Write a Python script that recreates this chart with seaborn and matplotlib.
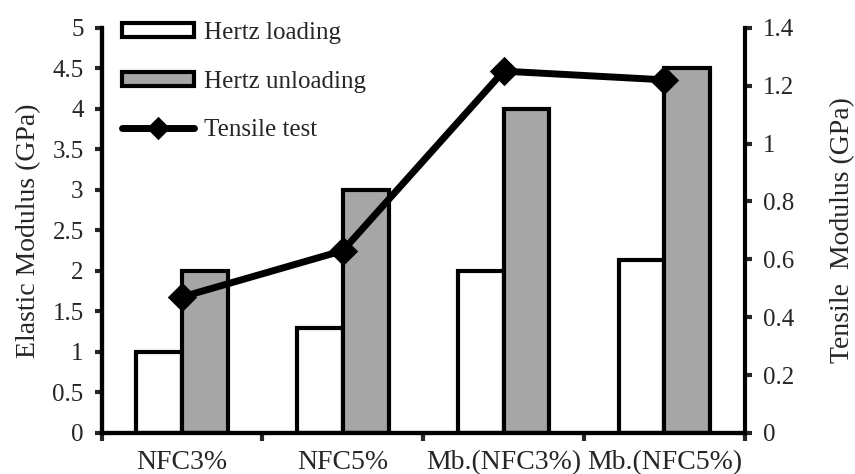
import pandas as pd
import numpy as np
import matplotlib.pyplot as plt
import seaborn as sns

categories = ["NFC3%", "NFC5%", "Mb.(NFC3%)", "Mb.(NFC5%)"]
hertz_loading = [1.0, 1.3, 2.0, 2.13]
hertz_unloading = [2.0, 3.0, 4.0, 4.5]
tensile = [0.47, 0.63, 1.25, 1.22]

df = pd.DataFrame({
    "sample": categories * 2,
    "modulus": hertz_loading + hertz_unloading,
    "test": ["Hertz loading"] * 4 + ["Hertz unloading"] * 4,
})
df_t = pd.DataFrame({"sample": categories, "modulus": tensile})

sns.set_style("white")
plt.rcParams['font.family'] = ['Liberation Serif', 'DejaVu Serif']
plt.rcParams['font.size'] = 18

fig = plt.figure(figsize=(8.55, 4.74), dpi=100)
ax = fig.add_axes([0.119, 0.0865, 0.752, 0.855])

sns.barplot(data=df, x="sample", y="modulus", hue="test", order=categories,
            palette=["white", "#a6a6a6"], edgecolor="black", linewidth=3,
            width=0.57, gap=0, ax=ax)

ax2 = ax.twinx()
sns.pointplot(data=df_t, x="sample", y="modulus", order=categories, color="black",
              markers="D", markersize=11, linewidth=5, ax=ax2, label="Tensile test")

ax.set_xlim(-0.5, 3.5)
ax.set_ylim(0, 5)
ax2.set_ylim(0, 1.4)
ax.set_yticks(np.arange(0, 5.01, 0.5))
ax.set_yticklabels(["0", "0.5", "1", "1.5", "2", "2.5", "3", "3.5", "4", "4.5", "5"])
ax2.set_yticks(np.arange(0, 1.41, 0.2))
ax2.set_yticklabels(["0", "0.2", "0.4", "0.6", "0.8", "1", "1.2", "1.4"])

# ticks at group boundaries, labels in between
ax.set_xticks([-0.5, 0.5, 1.5, 2.5, 3.5])
ax.set_xticklabels([])
ax.set_xticks(range(4), minor=True)
ax.set_xticklabels(categories, minor=True)
ax.tick_params(axis="x", which="minor", length=0, pad=12, labelsize=20)
ax.tick_params(axis="x", which="major", direction="out", length=6, width=3, bottom=True)
ax.tick_params(axis="y", direction="out", length=5, width=3, left=True, labelsize=18, pad=8)
ax2.tick_params(axis="y", direction="out", length=5, width=3, right=True, labelsize=18, pad=8)

ax.set_xlabel("")
ax.set_ylabel("Elastic Modulus (GPa)", fontsize=20, labelpad=8)
ax2.set_ylabel("Tensile  Modulus (GPa)", fontsize=20, labelpad=26)
ax2.set_xlabel("")

for a in (ax, ax2):
    a.spines["top"].set_visible(False)
    for s in ("left", "right", "bottom"):
        a.spines[s].set_linewidth(3)
        a.spines[s].set_color("black")
ax.spines["right"].set_visible(False)

h1, l1 = ax.get_legend_handles_labels()
h2, l2 = ax2.get_legend_handles_labels()
if ax.get_legend() is not None:
    ax.get_legend().remove()
if ax2.get_legend() is not None:
    ax2.get_legend().remove()
leg = ax.legend(h1 + h2, l1 + l2, loc="upper left", bbox_to_anchor=(-0.004, 1.07),
                frameon=False, fontsize=18, handlelength=2.9, handleheight=0.5,
                labelspacing=1.07, handletextpad=0.4)
leg.legend_handles[2].set_markersize(8)

fig.savefig("out.png", dpi=100)
